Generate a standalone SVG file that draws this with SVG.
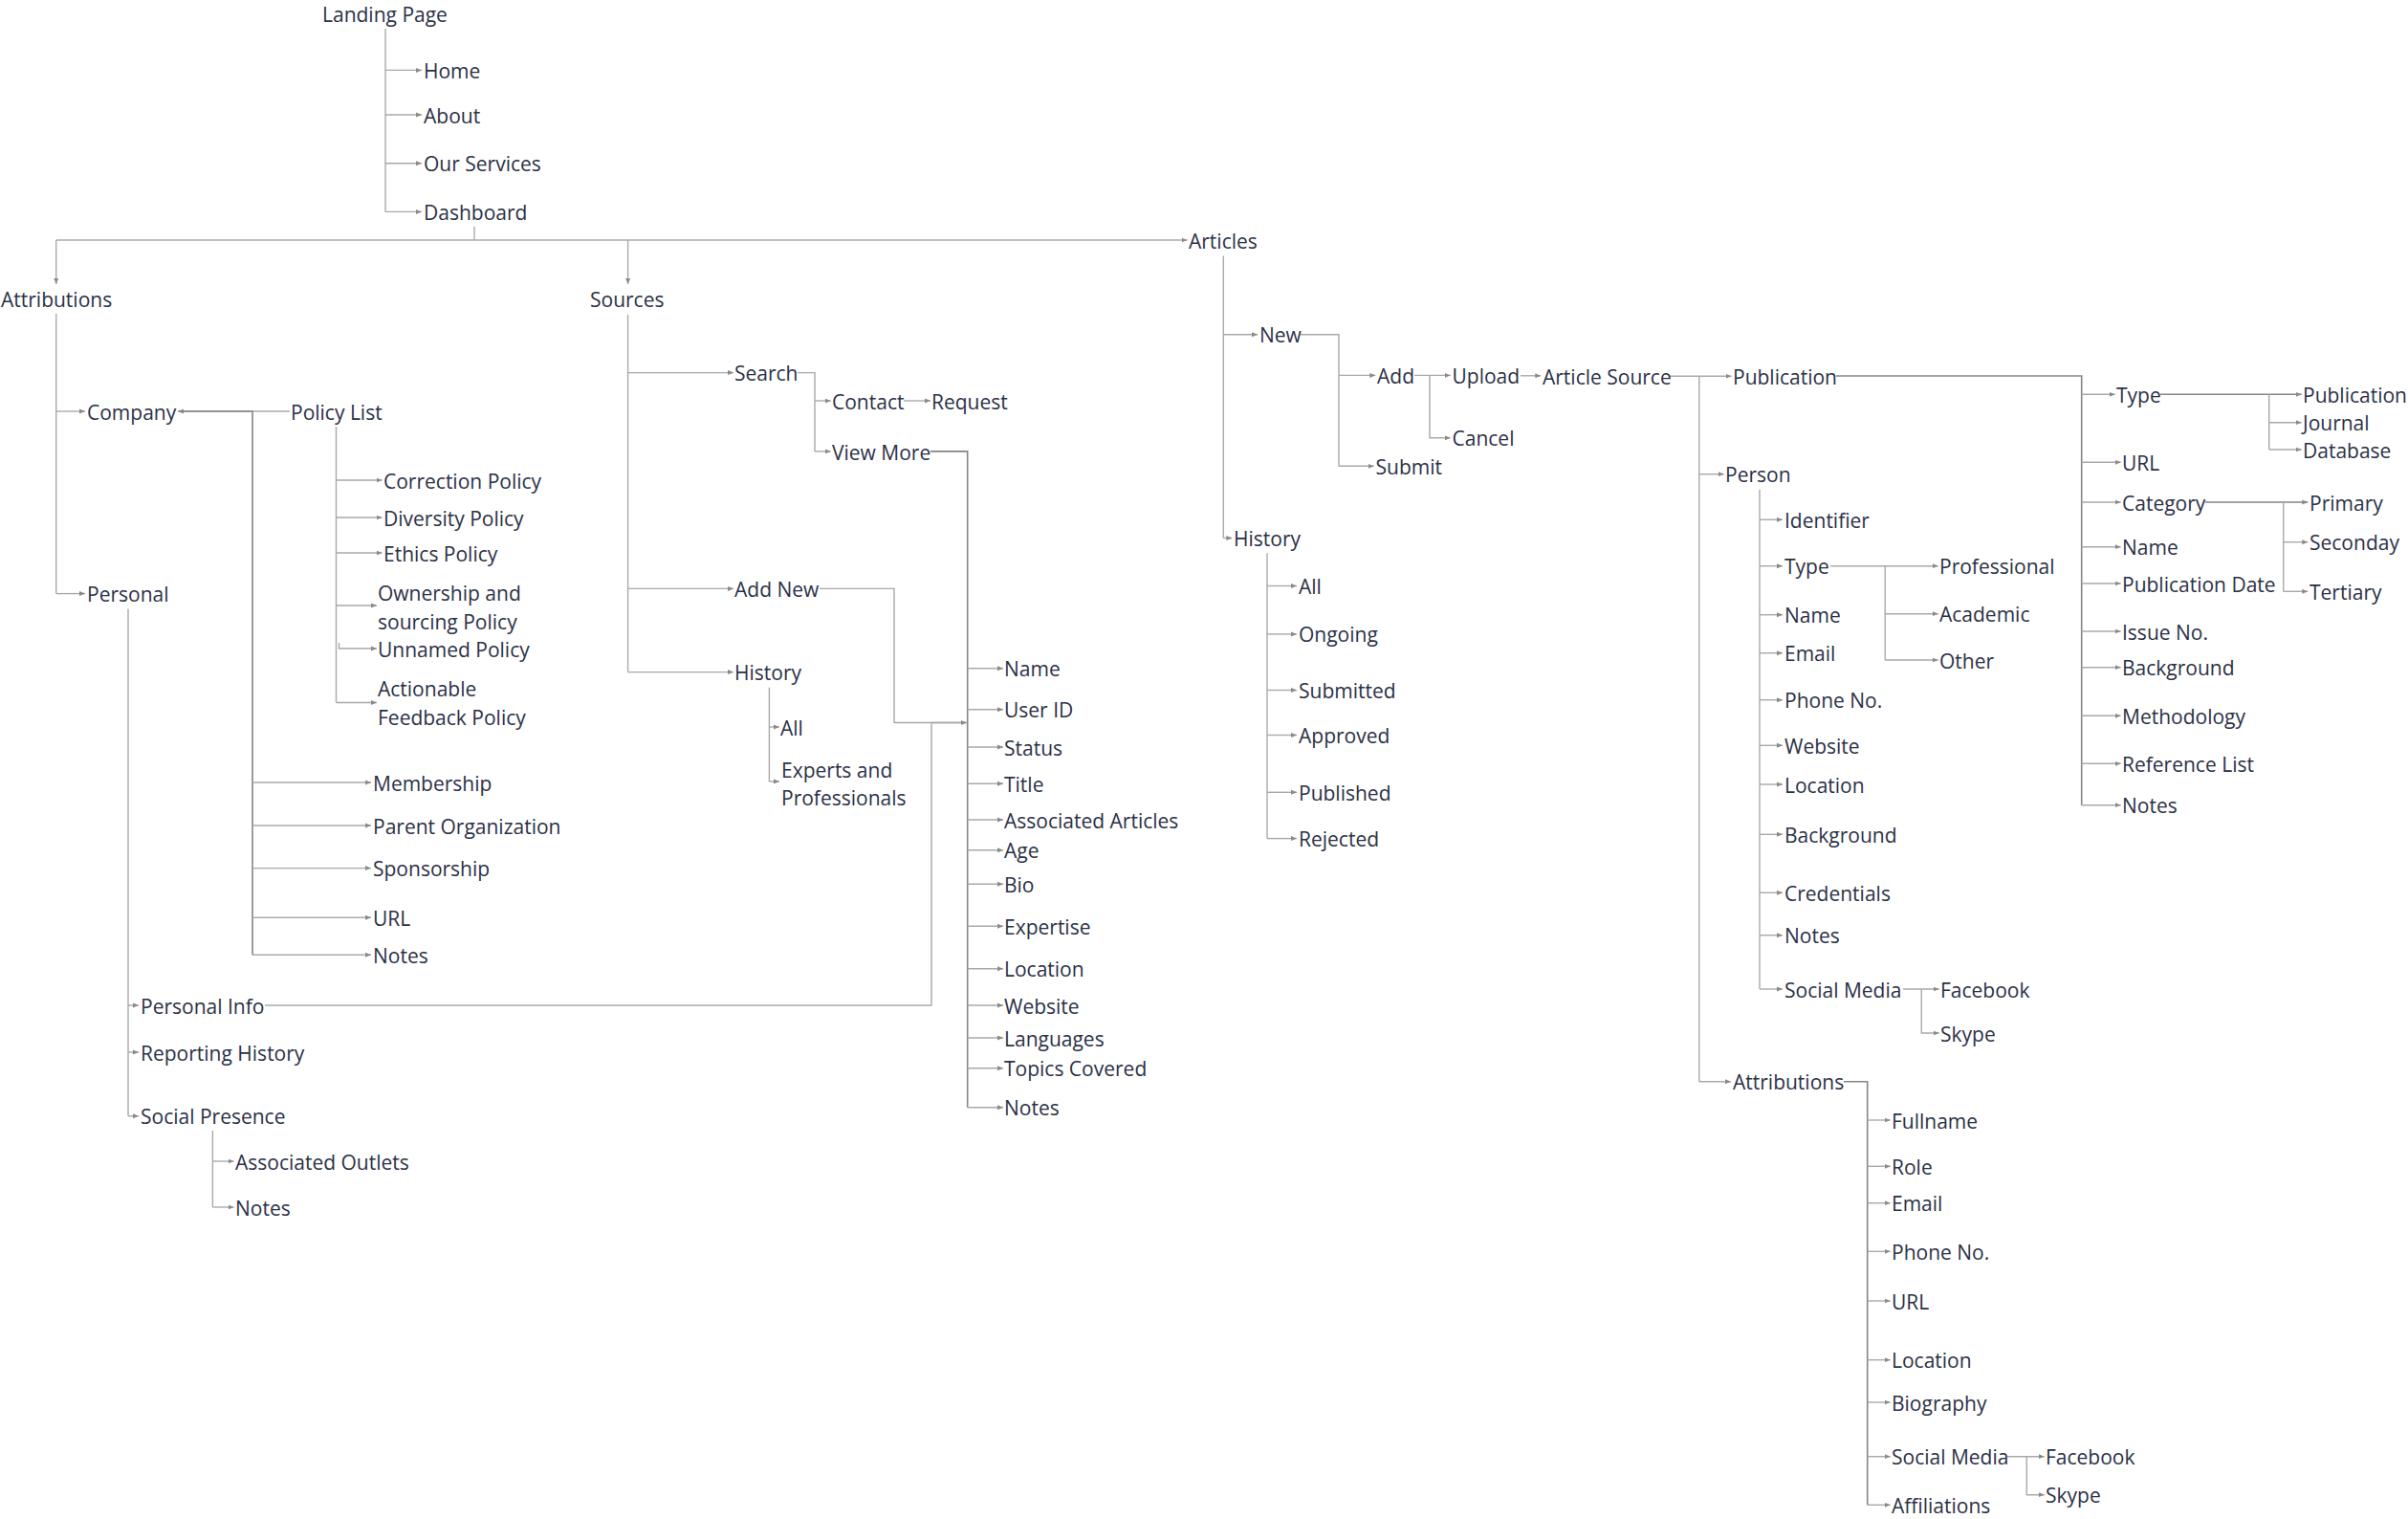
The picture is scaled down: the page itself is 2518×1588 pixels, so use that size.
<svg xmlns="http://www.w3.org/2000/svg" width="2518" height="1588" viewBox="0 0 2518 1588">
<style>
.t{font-family:"Open Sans","Noto Sans","Liberation Sans",sans-serif;font-size:21px;fill:#2b3146}
.c{fill:none;stroke:#a9a9a9;stroke-width:1.4}
.d{fill:none;stroke:#858585;stroke-width:1.6}
.a{marker-end:url(#ah)}
</style>
<defs>
<marker id="ah" viewBox="0 0 6 6" refX="6" refY="3" markerWidth="6" markerHeight="6" markerUnits="userSpaceOnUse" orient="auto"><path d="M0,0.5 L6,3 L0,5.5 z" fill="#8a8a8a"/></marker>
</defs>
<rect width="2518" height="1588" fill="#ffffff"/>
<g id="connectors">
<!-- Landing -->
<path class="c" d="M403 30 V221.4"/>
<path class="c a" d="M403 73.4 H441"/>
<path class="c a" d="M403 120 H441"/>
<path class="c a" d="M403 170.7 H441"/>
<path class="c a" d="M403 221.4 H441"/>
<!-- Dashboard -->
<path class="c" d="M496 237 V251"/>
<path class="c a" d="M58.7 251 H1241.5"/>
<path class="c a" d="M58.7 251 V297"/>
<path class="c a" d="M656.6 251 V297"/>
<!-- Attributions left -->
<path class="c" d="M58.7 328 V620.6"/>
<path class="c a" d="M58.7 430 H89"/>
<path class="c a" d="M58.7 620.6 H89"/>
<path class="c a" d="M303 430 H186"/>
<path class="d" d="M187 430 H264 V998.2"/>
<path class="c a" d="M264 818 H388"/>
<path class="c a" d="M264 863 H388"/>
<path class="c a" d="M264 907.6 H388"/>
<path class="c a" d="M264 959.3 H388"/>
<path class="c a" d="M264 998.2 H388"/>
<path class="c" d="M351.5 446 V734.5"/>
<path class="c a" d="M351.5 502 H399.5"/>
<path class="c a" d="M351.5 541 H399.5"/>
<path class="c a" d="M351.5 578 H399.5"/>
<path class="c a" d="M351.5 633 H394"/>
<path class="c a" d="M354.5 672 V678 H394"/>
<path class="c a" d="M351.5 734.5 H394"/>
<path class="c" d="M134 636.5 V1166.7"/>
<path class="c a" d="M134 1051 H145"/>
<path class="c a" d="M134 1100 H145"/>
<path class="c a" d="M134 1166.7 H145"/>
<path class="c a" d="M277 1051 H974 V755.5 H1010.5"/>
<path class="c" d="M222.4 1182 V1262"/>
<path class="c a" d="M222.4 1214 H244.5"/>
<path class="c a" d="M222.4 1262 H244.5"/>
<!-- Sources -->
<path class="c" d="M656.6 328.7 V702.6"/>
<path class="c a" d="M656.6 389.6 H767"/>
<path class="c a" d="M656.6 615.4 H767"/>
<path class="c a" d="M656.6 702.6 H767"/>
<path class="c" d="M834 389.6 H852 V471.9"/>
<path class="c a" d="M852 419 H868.7"/>
<path class="c a" d="M852 471.9 H868.7"/>
<path class="c a" d="M945 419 H973"/>
<path class="d" d="M973 471.9 H1011.7 V1157.7"/>
<path class="c a" d="M1011.7 698.8 H1049"/>
<path class="c a" d="M1011.7 741.7 H1049"/>
<path class="c a" d="M1011.7 781 H1049"/>
<path class="c a" d="M1011.7 819.3 H1049"/>
<path class="c a" d="M1011.7 857 H1049"/>
<path class="c a" d="M1011.7 888.7 H1049"/>
<path class="c a" d="M1011.7 924.3 H1049"/>
<path class="c a" d="M1011.7 968.3 H1049"/>
<path class="c a" d="M1011.7 1012.7 H1049"/>
<path class="c a" d="M1011.7 1051 H1049"/>
<path class="c a" d="M1011.7 1085 H1049"/>
<path class="c a" d="M1011.7 1116.7 H1049"/>
<path class="c a" d="M1011.7 1157.7 H1049"/>
<path class="c a" d="M857 615.4 H935 V755.5 H1010.5"/>
<path class="c" d="M804.4 718.7 V817"/>
<path class="c a" d="M804.4 760 H814.8"/>
<path class="c a" d="M804.4 817 H815"/>
<!-- Articles -->
<path class="c" d="M1279.3 267.6 V562.5"/>
<path class="c a" d="M1279.3 349.7 H1315"/>
<path class="c a" d="M1279.3 562.5 H1288.3"/>
<path class="c" d="M1360 349.7 H1400 V487.3"/>
<path class="c a" d="M1400 392.4 H1438.3"/>
<path class="c a" d="M1400 487.3 H1436.7"/>
<path class="c a" d="M1479 392.4 H1516.7"/>
<path class="c a" d="M1495 392.4 V457.8 H1516.7"/>
<path class="c a" d="M1590 392.8 H1611.3"/>
<path class="c" d="M1325 578.3 V876.6"/>
<path class="c a" d="M1325 612.5 H1356"/>
<path class="c a" d="M1325 662.9 H1356"/>
<path class="c a" d="M1325 721.5 H1356"/>
<path class="c a" d="M1325 768.5 H1356"/>
<path class="c a" d="M1325 828.3 H1356"/>
<path class="c a" d="M1325 876.6 H1356"/>
<!-- Article Source -->
<path class="c a" d="M1746 393.3 H1810.5"/>
<path class="c" d="M1776.8 393.3 V1130.7"/>
<path class="c a" d="M1776.8 495.7 H1802.8"/>
<path class="c a" d="M1776.8 1130.7 H1810"/>
<!-- Publication -->
<path class="d" d="M1920 393 H2176.7 V841.7"/>
<path class="c a" d="M2176.7 412.3 H2211.7"/>
<path class="c a" d="M2176.7 483.3 H2217.7"/>
<path class="c a" d="M2176.7 525 H2217.7"/>
<path class="c a" d="M2176.7 571.7 H2217.7"/>
<path class="c a" d="M2176.7 610 H2217.7"/>
<path class="c a" d="M2176.7 660 H2217.7"/>
<path class="c a" d="M2176.7 697.7 H2217.7"/>
<path class="c a" d="M2176.7 748.3 H2217.7"/>
<path class="c a" d="M2176.7 798.3 H2217.7"/>
<path class="c a" d="M2176.7 841.7 H2217.7"/>
<path class="d a" d="M2259 412.3 H2406.7"/>
<path class="c" d="M2372.7 412.3 V470"/>
<path class="c a" d="M2372.7 441.7 H2406.7"/>
<path class="c a" d="M2372.7 470 H2406.7"/>
<path class="d a" d="M2306 525 H2413.3"/>
<path class="c" d="M2387.7 525 V618.3"/>
<path class="c a" d="M2387.7 566.7 H2413.3"/>
<path class="c a" d="M2387.7 618.3 H2413.3"/>
<!-- Person -->
<path class="c" d="M1840 511.7 V1034"/>
<path class="c a" d="M1840 543.3 H1864"/>
<path class="c a" d="M1840 591.7 H1864"/>
<path class="c a" d="M1840 642.7 H1864"/>
<path class="c a" d="M1840 682.7 H1864"/>
<path class="c a" d="M1840 731.7 H1864"/>
<path class="c a" d="M1840 779.3 H1864"/>
<path class="c a" d="M1840 820 H1864"/>
<path class="c a" d="M1840 872.3 H1864"/>
<path class="c a" d="M1840 933.3 H1864"/>
<path class="c a" d="M1840 977.7 H1864"/>
<path class="c a" d="M1840 1034 H1864"/>
<path class="c a" d="M1914 591.7 H2026.7"/>
<path class="c" d="M1971.2 591.7 V690"/>
<path class="c a" d="M1971.2 641.7 H2026.7"/>
<path class="c a" d="M1971.2 690 H2026.7"/>
<path class="c a" d="M1990 1034 H2027.7"/>
<path class="c a" d="M2009.3 1034 V1080 H2027.7"/>
<!-- Attributions right -->
<path class="d" d="M1928 1130.7 H1952.7 V1573.3"/>
<path class="c a" d="M1952.7 1171 H1976.7"/>
<path class="c a" d="M1952.7 1219.3 H1976.7"/>
<path class="c a" d="M1952.7 1257.7 H1976.7"/>
<path class="c a" d="M1952.7 1308.3 H1976.7"/>
<path class="c a" d="M1952.7 1360 H1976.7"/>
<path class="c a" d="M1952.7 1421.7 H1976.7"/>
<path class="c a" d="M1952.7 1466 H1976.7"/>
<path class="c a" d="M1952.7 1522.7 H1976.7"/>
<path class="c a" d="M1952.7 1573.3 H1976.7"/>
<path class="c a" d="M2099 1522.7 H2137.7"/>
<path class="c a" d="M2119.3 1522.7 V1562.7 H2137.7"/>
</g>
<g id="n-landing"><text class="t" x="337" y="23">Landing Page</text></g>
<g id="n-home"><text class="t" x="443" y="82">Home</text></g>
<g id="n-about"><text class="t" x="443" y="128.5">About</text></g>
<g id="n-services"><text class="t" x="443" y="179">Our Services</text></g>
<g id="n-dashboard"><text class="t" x="443" y="230">Dashboard</text></g>
<g id="n-attributions"><text class="t" x="1" y="321">Attributions</text></g>
<g id="n-sources"><text class="t" x="617" y="321">Sources</text></g>
<g id="n-articles"><text class="t" x="1243" y="260">Articles</text></g>
<g id="n-company"><text class="t" x="91" y="438.5">Company</text></g>
<g id="n-policylist"><text class="t" x="304" y="438.5">Policy List</text></g>
<g id="n-correction"><text class="t" x="401" y="510.5">Correction Policy</text></g>
<g id="n-diversity"><text class="t" x="401" y="549.5">Diversity Policy</text></g>
<g id="n-ethics"><text class="t" x="401" y="586.5">Ethics Policy</text></g>
<g id="n-ownership"><text class="t" x="395" y="627.5">Ownership and<tspan x="395" y="657.5">sourcing Policy</tspan></text></g>
<g id="n-unnamed"><text class="t" x="395" y="686.5">Unnamed Policy</text></g>
<g id="n-actionable"><text class="t" x="395" y="728">Actionable<tspan x="395" y="758">Feedback Policy</tspan></text></g>
<g id="n-membership"><text class="t" x="390" y="826.5">Membership</text></g>
<g id="n-parent"><text class="t" x="390" y="871.5">Parent Organization</text></g>
<g id="n-sponsorship"><text class="t" x="390" y="916">Sponsorship</text></g>
<g id="n-company-url"><text class="t" x="390" y="967.5">URL</text></g>
<g id="n-company-notes"><text class="t" x="390" y="1006.5">Notes</text></g>
<g id="n-personal"><text class="t" x="91" y="629">Personal</text></g>
<g id="n-personalinfo"><text class="t" x="147" y="1059.5">Personal Info</text></g>
<g id="n-reporting"><text class="t" x="147" y="1108.5">Reporting History</text></g>
<g id="n-socialpresence"><text class="t" x="147" y="1175">Social Presence</text></g>
<g id="n-outlets"><text class="t" x="246" y="1222.5">Associated Outlets</text></g>
<g id="n-sp-notes"><text class="t" x="246" y="1270.5">Notes</text></g>
<g id="n-search"><text class="t" x="768" y="398">Search</text></g>
<g id="n-contact"><text class="t" x="870" y="427.5">Contact</text></g>
<g id="n-request"><text class="t" x="974" y="427.5">Request</text></g>
<g id="n-viewmore"><text class="t" x="870" y="480.5">View More</text></g>
<g id="n-addnew"><text class="t" x="768" y="624">Add New</text></g>
<g id="n-src-history"><text class="t" x="768" y="711">History</text></g>
<g id="n-src-all"><text class="t" x="816" y="768.5">All</text></g>
<g id="n-experts"><text class="t" x="817" y="812.5">Experts and<tspan x="817" y="842">Professionals</tspan></text></g>
<g id="n-vm-name"><text class="t" x="1050" y="707.3">Name</text></g>
<g id="n-vm-userid"><text class="t" x="1050" y="750.2">User ID</text></g>
<g id="n-vm-status"><text class="t" x="1050" y="789.5">Status</text></g>
<g id="n-vm-title"><text class="t" x="1050" y="827.8">Title</text></g>
<g id="n-vm-assoc"><text class="t" x="1050" y="865.5">Associated Articles</text></g>
<g id="n-vm-age"><text class="t" x="1050" y="897.2">Age</text></g>
<g id="n-vm-bio"><text class="t" x="1050" y="932.8">Bio</text></g>
<g id="n-vm-expertise"><text class="t" x="1050" y="976.8">Expertise</text></g>
<g id="n-vm-location"><text class="t" x="1050" y="1021.2">Location</text></g>
<g id="n-vm-website"><text class="t" x="1050" y="1059.5">Website</text></g>
<g id="n-vm-languages"><text class="t" x="1050" y="1093.5">Languages</text></g>
<g id="n-vm-topics"><text class="t" x="1050" y="1125.2">Topics Covered</text></g>
<g id="n-vm-notes"><text class="t" x="1050" y="1166.2">Notes</text></g>
<g id="n-new"><text class="t" x="1317" y="358.2">New</text></g>
<g id="n-add"><text class="t" x="1440" y="401">Add</text></g>
<g id="n-upload"><text class="t" x="1518.5" y="401">Upload</text></g>
<g id="n-articlesource"><text class="t" x="1613" y="401.8">Article Source</text></g>
<g id="n-cancel"><text class="t" x="1518.5" y="466.3">Cancel</text></g>
<g id="n-submit"><text class="t" x="1438.5" y="495.8">Submit</text></g>
<g id="n-art-history"><text class="t" x="1290" y="571">History</text></g>
<g id="n-ah-all"><text class="t" x="1358" y="621">All</text></g>
<g id="n-ah-ongoing"><text class="t" x="1358" y="671.4">Ongoing</text></g>
<g id="n-ah-submitted"><text class="t" x="1358" y="730">Submitted</text></g>
<g id="n-ah-approved"><text class="t" x="1358" y="777">Approved</text></g>
<g id="n-ah-published"><text class="t" x="1358" y="836.8">Published</text></g>
<g id="n-ah-rejected"><text class="t" x="1358" y="885.1">Rejected</text></g>
<g id="n-publication"><text class="t" x="1812" y="401.5">Publication</text></g>
<g id="n-person"><text class="t" x="1804" y="504.2">Person</text></g>
<g id="n-attr2"><text class="t" x="1812" y="1139.2">Attributions</text></g>
<g id="n-p-identifier"><text class="t" x="1866" y="551.8">Identifier</text></g>
<g id="n-p-type"><text class="t" x="1866" y="600.2">Type</text></g>
<g id="n-p-name"><text class="t" x="1866" y="651.2">Name</text></g>
<g id="n-p-email"><text class="t" x="1866" y="691.2">Email</text></g>
<g id="n-p-phone"><text class="t" x="1866" y="740.2">Phone No.</text></g>
<g id="n-p-website"><text class="t" x="1866" y="787.8">Website</text></g>
<g id="n-p-location"><text class="t" x="1866" y="828.5">Location</text></g>
<g id="n-p-background"><text class="t" x="1866" y="880.8">Background</text></g>
<g id="n-p-credentials"><text class="t" x="1866" y="941.8">Credentials</text></g>
<g id="n-p-notes"><text class="t" x="1866" y="986.2">Notes</text></g>
<g id="n-p-social"><text class="t" x="1866" y="1042.5">Social Media</text></g>
<g id="n-professional"><text class="t" x="2028" y="600.2">Professional</text></g>
<g id="n-academic"><text class="t" x="2028" y="650.2">Academic</text></g>
<g id="n-other"><text class="t" x="2028" y="698.5">Other</text></g>
<g id="n-p-facebook"><text class="t" x="2029" y="1042.5">Facebook</text></g>
<g id="n-p-skype"><text class="t" x="2029" y="1088.5">Skype</text></g>
<g id="n-pub-type"><text class="t" x="2213" y="420.8">Type</text></g>
<g id="n-pub-url"><text class="t" x="2219" y="491.8">URL</text></g>
<g id="n-pub-category"><text class="t" x="2219" y="533.5">Category</text></g>
<g id="n-pub-name"><text class="t" x="2219" y="580.2">Name</text></g>
<g id="n-pub-date"><text class="t" x="2219" y="618.5">Publication Date</text></g>
<g id="n-pub-issue"><text class="t" x="2219" y="668.5">Issue No.</text></g>
<g id="n-pub-background"><text class="t" x="2219" y="706.2">Background</text></g>
<g id="n-pub-method"><text class="t" x="2219" y="756.8">Methodology</text></g>
<g id="n-pub-ref"><text class="t" x="2219" y="806.8">Reference List</text></g>
<g id="n-pub-notes"><text class="t" x="2219" y="850.2">Notes</text></g>
<g id="n-t-publication"><text class="t" x="2408" y="420.8">Publication</text></g>
<g id="n-t-journal"><text class="t" x="2408" y="450.2">Journal</text></g>
<g id="n-t-database"><text class="t" x="2408" y="478.5">Database</text></g>
<g id="n-primary"><text class="t" x="2415" y="533.5">Primary</text></g>
<g id="n-seconday"><text class="t" x="2415" y="575.2">Seconday</text></g>
<g id="n-tertiary"><text class="t" x="2415" y="626.8">Tertiary</text></g>
<g id="n-a-fullname"><text class="t" x="1978" y="1179.5">Fullname</text></g>
<g id="n-a-role"><text class="t" x="1978" y="1227.8">Role</text></g>
<g id="n-a-email"><text class="t" x="1978" y="1266.2">Email</text></g>
<g id="n-a-phone"><text class="t" x="1978" y="1316.8">Phone No.</text></g>
<g id="n-a-url"><text class="t" x="1978" y="1368.5">URL</text></g>
<g id="n-a-location"><text class="t" x="1978" y="1430.2">Location</text></g>
<g id="n-a-biography"><text class="t" x="1978" y="1474.5">Biography</text></g>
<g id="n-a-social"><text class="t" x="1978" y="1531.2">Social Media</text></g>
<g id="n-a-affiliations"><text class="t" x="1978" y="1581.8">Affiliations</text></g>
<g id="n-a-facebook"><text class="t" x="2139" y="1531.2">Facebook</text></g>
<g id="n-a-skype"><text class="t" x="2139" y="1571.2">Skype</text></g>
</svg>
